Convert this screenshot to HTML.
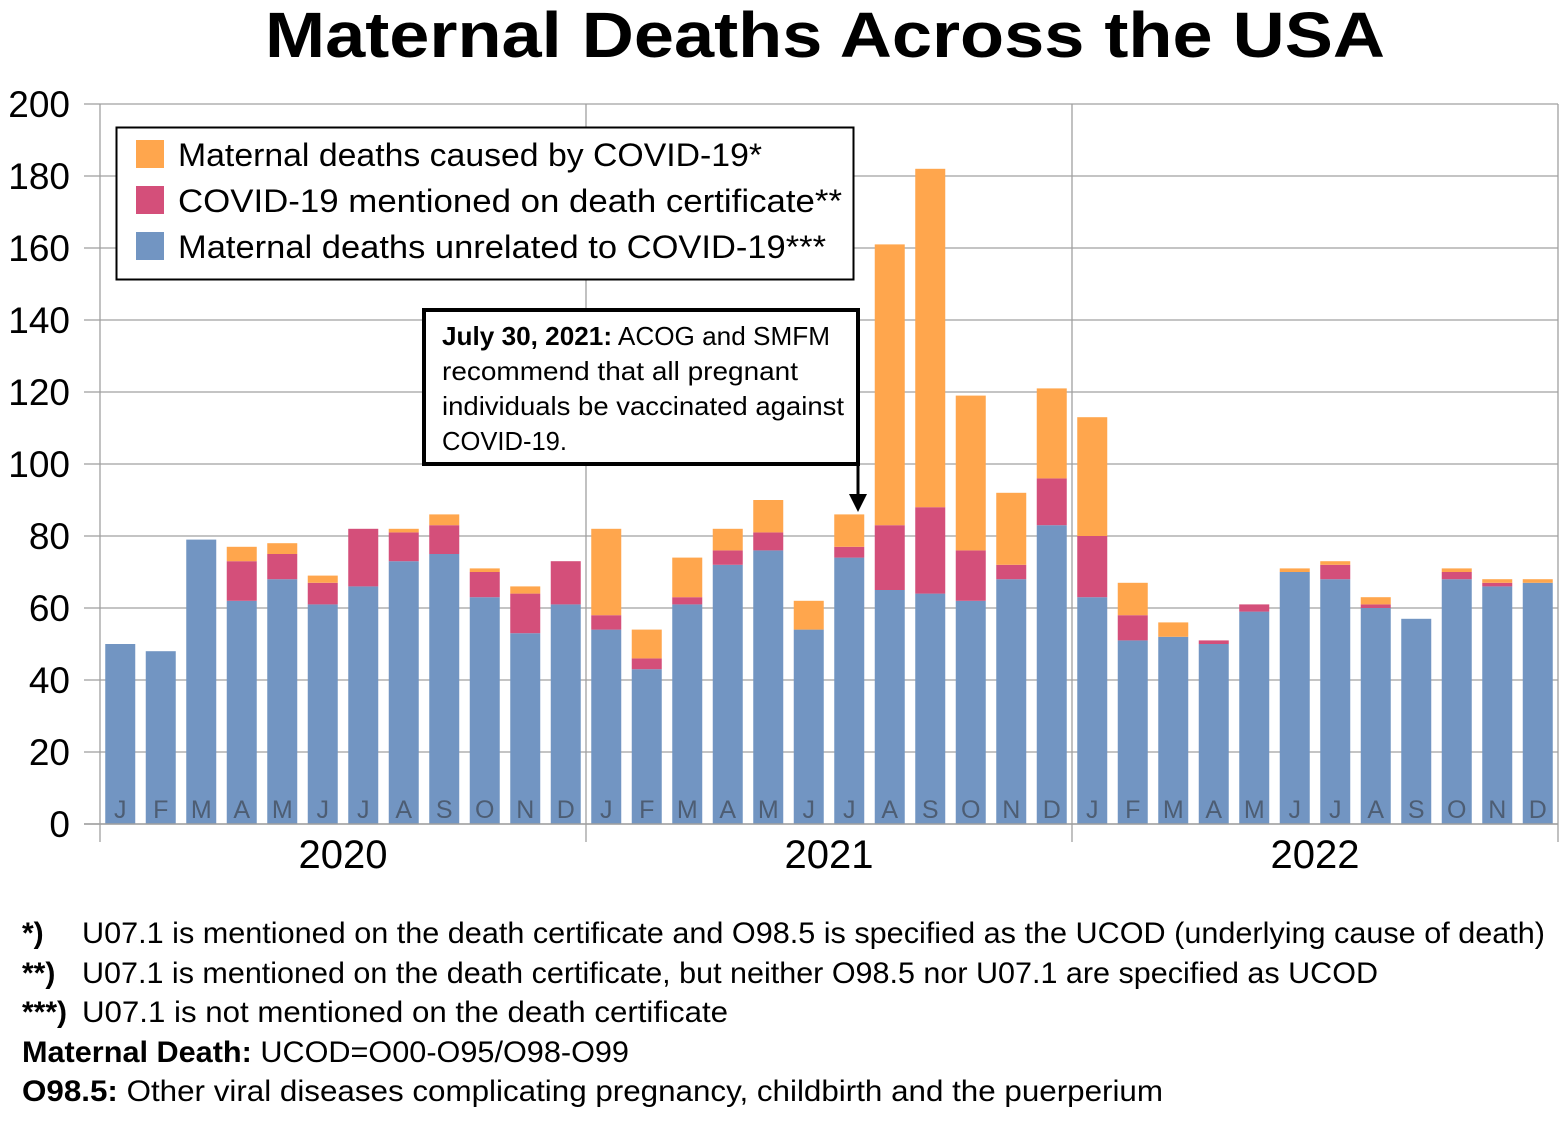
<!DOCTYPE html>
<html><head><meta charset="utf-8"><style>
body{margin:0;background:#fff}
svg{display:block}
text{font-family:"Liberation Sans",sans-serif}
</style></head><body>
<svg id="c" width="1563" height="1122" viewBox="0 0 1563 1122" xmlns="http://www.w3.org/2000/svg">
<text x="825" y="57" text-anchor="middle" font-size="64" font-weight="bold" textLength="1120" lengthAdjust="spacingAndGlyphs">Maternal Deaths Across the USA</text>
<g id="grid"></g>
<g id="bars"></g>
<g id="axes"></g>
<g>
<rect x="116.5" y="127.5" width="737" height="152" fill="#fff" stroke="#000" stroke-width="2"/>
<rect x="136" y="140" width="28" height="28" fill="#FFA64D"/>
<text x="178" y="166" font-size="32" textLength="584" lengthAdjust="spacingAndGlyphs">Maternal deaths caused by COVID-19*</text>
<rect x="136" y="186" width="28" height="28" fill="#D44F7A"/>
<text x="178" y="212" font-size="32" textLength="664" lengthAdjust="spacingAndGlyphs">COVID-19 mentioned on death certificate**</text>
<rect x="136" y="232" width="28" height="28" fill="#7295C2"/>
<text x="178" y="258" font-size="32" textLength="648" lengthAdjust="spacingAndGlyphs">Maternal deaths unrelated to COVID-19***</text>
</g>
<g>
<rect x="424" y="310" width="434" height="154" fill="#fff" stroke="#000" stroke-width="4"/>
<text x="442" y="345" font-size="26" textLength="388" lengthAdjust="spacingAndGlyphs"><tspan font-weight="bold">July 30, 2021:</tspan> ACOG and SMFM</text>
<text x="442" y="380" font-size="26" textLength="356" lengthAdjust="spacingAndGlyphs">recommend that all pregnant</text>
<text x="442" y="415" font-size="26" textLength="402" lengthAdjust="spacingAndGlyphs">individuals be vaccinated against</text>
<text x="442" y="450" font-size="26" textLength="125" lengthAdjust="spacingAndGlyphs">COVID-19.</text>
<line x1="858" y1="464" x2="858" y2="496" stroke="#000" stroke-width="3"/>
<polygon points="849,494 867,494 858,512" fill="#000"/>
</g>
<g font-size="30">
<text x="22" y="943" font-weight="bold">*)</text><text x="82" y="943" textLength="1463" lengthAdjust="spacingAndGlyphs">U07.1 is mentioned on the death certificate and O98.5 is specified as the UCOD (underlying cause of death)</text>
<text x="22" y="983" font-weight="bold">**)</text><text x="82" y="983" textLength="1296" lengthAdjust="spacingAndGlyphs">U07.1 is mentioned on the death certificate, but neither O98.5 nor U07.1 are specified as UCOD</text>
<text x="22" y="1022" font-weight="bold">***)</text><text x="82" y="1022" textLength="646" lengthAdjust="spacingAndGlyphs">U07.1 is not mentioned on the death certificate</text>
<text x="22" y="1062" textLength="607" lengthAdjust="spacingAndGlyphs"><tspan font-weight="bold">Maternal Death:</tspan> UCOD=O00-O95/O98-O99</text>
<text x="22" y="1101" textLength="1141" lengthAdjust="spacingAndGlyphs"><tspan font-weight="bold">O98.5:</tspan> Other viral diseases complicating pregnancy, childbirth and the puerperium</text>
</g>
</svg>
<script>
const months = ["J","F","M","A","M","J","J","A","S","O","N","D"];
const years = ["2020","2021","2022"];
const yTicks = [0,20,40,60,80,100,120,140,160,180,200];
const unrelated = [50,48,79,62,68,61,66,73,75,63,53,61, 54,43,61,72,76,54,74,65,64,62,68,83, 63,51,52,50,59,70,68,60,57,68,66,67];
const mentioned = [0,0,0,11,7,6,16,8,8,7,11,12, 4,3,2,4,5,0,3,18,24,14,4,13, 17,7,0,1,2,0,4,1,0,2,1,0];
const caused    = [0,0,0,4,3,2,0,1,3,1,2,0, 24,8,11,6,9,8,9,78,94,43,20,25, 33,9,4,0,0,1,1,2,0,1,1,1];

const NS="http://www.w3.org/2000/svg";
const X0=100, X1=1558, Y0=824, Y1=104, ymax=200;
const n=unrelated.length, step=(X1-X0)/n, bw=30;
const y=v=>Y0-(v/ymax)*(Y0-Y1);
const xc=i=>X0+step*(i+0.5);
function mk(tag,attrs,parent,txt){const e=document.createElementNS(NS,tag);for(const k in attrs)e.setAttribute(k,attrs[k]);if(txt!==undefined)e.textContent=txt;parent.appendChild(e);return e;}
const grid=document.getElementById('grid'), bars=document.getElementById('bars'), axes=document.getElementById('axes');
yTicks.forEach(t=>{
  const l=mk('line',{x1:X0,x2:X1,y1:y(t),y2:y(t),stroke:'#a0a0a0','stroke-width':1.3},grid);
  
  
  const tk=mk('line',{x1:84,x2:X0,y1:y(t),y2:y(t),stroke:'#a0a0a0','stroke-width':1.3},axes);
  
  
  const lb=mk('text',{x:70,y:y(t)+13,'text-anchor':'end','font-size':37},axes,String(t));
  
  
});
for(let k=0;k<=years.length;k++){
  const xx=X0+k*12*step;
  const l=mk('line',{x1:xx,x2:xx,y1:Y1,y2:842,stroke:'#a0a0a0','stroke-width':1.3},grid);
  
  
}
years.forEach((yr,k)=>{
  const t=mk('text',{x:X0+(k*12+6)*step,y:868,'text-anchor':'middle','font-size':40},axes,yr);
  
  
});
for(let i=0;i<n;i++){
  const segs=[[unrelated[i],'#7295C2','unrelated'],[mentioned[i],'#D44F7A','mentioned'],[caused[i],'#FFA64D','caused']];
  let base=0;
  segs.forEach(([v,col,nm])=>{
    if(v<=0)return;
    const r=mk('rect',{x:xc(i)-bw/2,y:y(base+v),width:bw,height:y(base)-y(base+v),fill:col},bars);
    
    
    base+=v;
  });
  const m=mk('text',{x:xc(i),y:818,'text-anchor':'middle','font-size':25,fill:'#4d5d73'},bars,months[i%12]);
  
  
}
const ax=mk('line',{x1:84,x2:X1,y1:Y0,y2:Y0,stroke:'#a0a0a0','stroke-width':1.5},axes);


</script>
</body></html>
